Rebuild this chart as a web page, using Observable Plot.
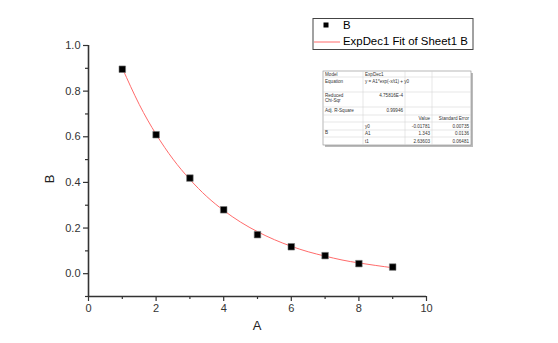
<!DOCTYPE html>
<html>
<head>
<meta charset="utf-8">
<script src="https://cdn.jsdelivr.net/npm/d3@7"></script>
<script src="https://cdn.jsdelivr.net/npm/@observablehq/plot@0.6"></script>
<style>
body { margin: 0; background: #fff; }
#chart { width: 558px; height: 343px; }
</style>
</head>
<body>
<div id="chart"></div>
<script>
// Scatter data (A, B)
const xA = [1, 2, 3, 4, 5, 6, 7, 8, 9];
const yB = [0.896, 0.609, 0.419, 0.280, 0.171, 0.118, 0.079, 0.044, 0.029];
// ExpDec1 fit curve
const fitX = [1, 1.5, 2, 2.5, 3, 3.5, 4, 4.5, 5, 5.5, 6, 6.5, 7, 7.5, 8, 8.5, 9];
const fitY = [0.901, 0.742, 0.611, 0.502, 0.413, 0.338, 0.277, 0.226, 0.184, 0.149, 0.120, 0.096, 0.077, 0.060, 0.047, 0.036, 0.026];
// axis ticks
const xMajor = [0, 2, 4, 6, 8, 10];
const xMinor = [1, 3, 5, 7, 9];
const yMajor = [0, 0.2, 0.4, 0.6, 0.8, 1.0];
const yMinor = [-0.1, 0.1, 0.3, 0.5, 0.7, 0.9];
// legend + stats table text
const legendLabels = ["B", "ExpDec1 Fit of Sheet1 B"];
const tableRows = [
  ["Model", "ExpDec1", "", ""],
  ["Equation", "y = A1*exp(-x/t1) + y0", "", ""],
  ["Reduced\nChi-Sqr", "4.75816E-4", "", ""],
  ["Adj. R-Square", "0.99946", "", ""],
  ["", "", "Value", "Standard Error"],
  ["B", "y0", "-0.01781", "0.00735"],
  ["", "A1", "1.343", "0.0136"],
  ["", "t1", "2.63603", "0.06481"]
];

const pts = xA.map((x, i) => ({x, y: yB[i]}));
const fit = fitX.map((x, i) => ({x, y: fitY[i]}));
const axisColor = "#333";

const plot = Plot.plot({
  width: 558,
  height: 343,
  marginLeft: 88,
  marginRight: 132,
  marginTop: 45,
  marginBottom: 47,
  style: {fontFamily: "'Liberation Sans', Arial, sans-serif", fontSize: "11px", color: axisColor, background: "#fff"},
  x: {domain: [0, 10], label: null},
  y: {domain: [-0.1, 1.0], label: null},
  marks: [
    Plot.axisX({ticks: xMajor, tickSize: 5, tickPadding: 3, tickFormat: d => d3.format("d")(d), stroke: axisColor, strokeWidth: 1.2, fill: axisColor, fontSize: 11}),
    Plot.axisX({ticks: xMinor, tickSize: 3, tickFormat: () => "", stroke: axisColor, strokeWidth: 1.2}),
    Plot.axisY({ticks: yMajor, tickSize: 5, tickPadding: 3, tickFormat: d3.format(".1f"), stroke: axisColor, strokeWidth: 1.2, fill: axisColor, fontSize: 11}),
    Plot.axisY({ticks: yMinor, tickSize: 3, tickFormat: () => "", stroke: axisColor, strokeWidth: 1.2}),
    Plot.ruleX([0], {y1: -0.1, y2: 1.0, stroke: axisColor, strokeWidth: 1.6}),
    Plot.ruleY([-0.1], {x1: 0, x2: 10, stroke: axisColor, strokeWidth: 1.6}),
    Plot.line(fit, {x: "x", y: "y", stroke: "#ff6b6b", strokeWidth: 1, curve: "natural"}),
    Plot.dot(pts, {x: "x", y: "y", symbol: "square", r: 3.7, fill: "#000", stroke: "#777", strokeWidth: 0.6})
  ]
});

const svg = d3.select(plot);
// axis titles
svg.append("text").attr("x", 257).attr("y", 327).attr("text-anchor", "middle")
  .attr("dominant-baseline", "middle").attr("font-size", 13).attr("fill", "#222").text("A");
svg.append("text").attr("transform", "translate(51,179) rotate(-90)").attr("text-anchor", "middle")
  .attr("dominant-baseline", "middle").attr("font-size", 13).attr("fill", "#222").text("B");

// legend
const lg = svg.append("g").attr("font-size", 11.4).attr("fill", "#000").attr("text-anchor", "start");
lg.append("rect").attr("x", 313).attr("y", 18.5).attr("width", 160).attr("height", 31)
  .attr("fill", "#fff").attr("stroke", "#444").attr("stroke-width", 1);
lg.append("rect").attr("x", 323.5).attr("y", 22.5).attr("width", 5).attr("height", 5).attr("fill", "#000");
lg.append("text").attr("x", 343).attr("y", 25.5).attr("text-anchor", "start").attr("dominant-baseline", "middle").text(legendLabels[0]);
lg.append("line").attr("x1", 314).attr("x2", 340).attr("y1", 42).attr("y2", 42).attr("stroke", "#ff6b6b").attr("stroke-width", 1);
lg.append("text").attr("x", 343).attr("y", 42).attr("text-anchor", "start").attr("dominant-baseline", "middle").text(legendLabels[1]);

// stats table
const colX = [323, 363, 405, 432, 471];
const rowY = [71, 77, 92, 107, 115, 122, 130, 137, 145];
const tg = svg.append("g").attr("font-size", 4.6).attr("fill", "#333");
tg.append("rect").attr("x", colX[0] + 2).attr("y", rowY[0] + 2).attr("width", colX[4] - colX[0]).attr("height", rowY[8] - rowY[0]).attr("fill", "#bbb");
tg.append("rect").attr("x", colX[0]).attr("y", rowY[0]).attr("width", colX[4] - colX[0]).attr("height", rowY[8] - rowY[0]).attr("fill", "#fff").attr("stroke", "#888").attr("stroke-width", 0.6);
rowY.slice(1, -1).forEach(y => tg.append("line").attr("x1", colX[0]).attr("x2", colX[4]).attr("y1", y).attr("y2", y).attr("stroke", "#ccc").attr("stroke-width", 0.5));
colX.slice(1, -1).forEach(x => tg.append("line").attr("x1", x).attr("x2", x).attr("y1", rowY[0]).attr("y2", rowY[8]).attr("stroke", "#ccc").attr("stroke-width", 0.5));
tableRows.forEach((row, r) => {
  const yTop = rowY[r], yBot = rowY[r + 1];
  row.forEach((txt, c) => {
    if (!txt) return;
    const lines = txt.split("\n");
    const rightAlign = (r === 2 || r === 3) && c === 1 || c >= 2;
    let yy = (r < 4) ? yTop + 4.5 : (yTop + yBot) / 2 + 1.6;
    if (r === 1) yy = yTop + 5.5;
    if (r === 5 && c === 0) yy = 134;
    const x = rightAlign ? colX[c + 1] - 2 : colX[c] + 2;
    const t = tg.append("text").attr("x", x).attr("y", yy).attr("text-anchor", rightAlign ? "end" : "start");
    lines.forEach((l, i) => t.append("tspan").attr("x", x).attr("dy", i === 0 ? 0 : 5).text(l));
  });
});

document.getElementById("chart").appendChild(plot);
</script>
</body>
</html>
